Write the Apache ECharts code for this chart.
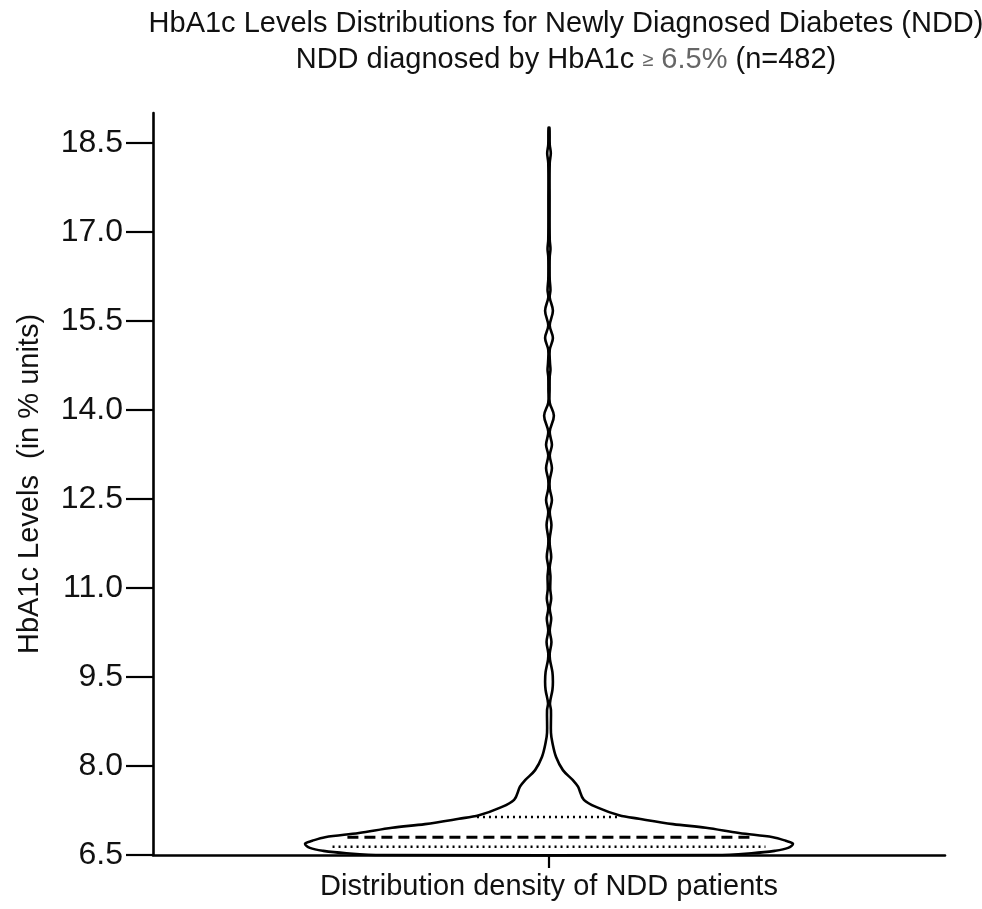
<!DOCTYPE html>
<html>
<head>
<meta charset="utf-8">
<title>HbA1c violin</title>
<script src="https://cdn.jsdelivr.net/npm/echarts@6/dist/echarts.min.js"></script>
<style>
html,body{margin:0;padding:0;background:#fff;}
#violin_chart{width:982px;height:909px;}
</style>
</head>
<body>
<div id="violin_chart"></div>
<script>
// HbA1c level (%) along the violin outline, from bottom to top
var levels = [6.50, 6.53, 6.57, 6.62, 6.69, 6.74, 6.80, 6.87, 6.96, 7.02, 7.11, 7.17, 7.29, 7.43, 7.65, 7.76, 7.93,
	8.15, 8.39, 8.56, 8.94, 9.06, 9.28, 9.42, 9.58, 9.79, 9.90, 10.09, 10.28, 10.48, 10.65, 10.82, 10.98,
	11.19, 11.35, 11.52, 11.73, 11.84, 12.06, 12.28, 12.48, 12.67, 12.82, 13.02, 13.23, 13.41, 13.63, 13.90,
	14.12, 14.34, 14.56, 14.67, 14.79, 15.01, 15.21, 15.42, 15.67, 15.89, 16.02, 16.19, 16.36, 16.58, 16.71,
	16.87, 17.54, 18.16, 18.32, 18.47, 18.75];
// relative density (widest point = 1) at each level
var density = [0.684, 0.830, 0.925, 0.980, 1.000, 0.970, 0.918, 0.779, 0.643, 0.508, 0.369, 0.287, 0.205, 0.143, 0.119, 0.098, 0.057,
	0.029, 0.014, 0.008, 0.008, 0.004, 0.014, 0.016, 0.014, 0.004, 0.003, 0.010, 0.003, 0.009, 0.003, 0.009, 0.005,
	0.006, 0.003, 0.009, 0.003, 0.003, 0.010, 0.003, 0.012, 0.003, 0.003, 0.012, 0.003, 0.012, 0.003, 0.020,
	0.003, 0.0025, 0.003, 0.006, 0.004, 0.003, 0.016, 0.003, 0.016, 0.003, 0.006, 0.003, 0.0025, 0.003, 0.006,
	0.003, 0.0025, 0.003, 0.0074, 0.003, 0.002];
// quartiles drawn inside the violin
var quartiles = [6.64, 6.80, 7.14];
var quartileNames = ['Q1', 'Median', 'Q3'];
var yTicks = [6.5, 8.0, 9.5, 11.0, 12.5, 14.0, 15.5, 17.0, 18.5];
var categories = ['Distribution density of NDD patients'];

var FONT = "'Liberation Sans', Arial, Helvetica, sans-serif";

function densityAt(v){
	for (var i = 1; i < levels.length; i++) {
		if (v <= levels[i]) {
			var t = (v - levels[i-1]) / (levels[i] - levels[i-1]);
			return density[i-1] + t * (density[i] - density[i-1]);
		}
	}
	return 0;
}

function renderViolin(params, api){
	var left = [], right = [];
	for (var i = 0; i < levels.length; i++) {
		left.push(api.coord([-density[i], levels[i]]));
		right.unshift(api.coord([density[i], levels[i]]));
	}
	var children = [{
		type: 'polygon',
		shape: {points: left.concat(right), smooth: 0.35},
		style: {fill: '#fff', stroke: '#000', lineWidth: 2.6, lineJoin: 'round'}
	}];
	for (var q = 0; q < quartiles.length; q++) {
		var w = densityAt(quartiles[q]) * 0.9;
		var p1 = api.coord([-w, quartiles[q]]);
		var p2 = api.coord([w, quartiles[q]]);
		var isMedian = quartileNames[q] == 'Median';
		children.push({
			type: 'line',
			shape: {x1: p1[0], y1: p1[1], x2: p2[0], y2: p2[1]},
			style: {
				stroke: '#000',
				lineWidth: isMedian ? 3 : 2.4,
				lineDash: isMedian ? [11, 6] : [2, 4]
			}
		});
	}
	return {type: 'group', children: children};
}

var myChart = echarts.init(document.getElementById('violin_chart'));
var option = {
	backgroundColor: '#fff',
	animation: false,
	title: {
		text: '{a|HbA1c Levels Distributions for Newly Diagnosed Diabetes (NDD)}\n{a|NDD diagnosed by HbA1c }{s|≥}{g| 6.5%}{a| (n=482)}',
		left: 561,
		top: 1,
		textAlign: 'center',
		textStyle: {
			fontWeight: 'normal',
			rich: {
				a: {fontFamily: FONT, fontSize: 29, fontWeight: 'normal', color: '#111', lineHeight: 36},
				g: {fontFamily: FONT, fontSize: 29, fontWeight: 'normal', color: '#666', lineHeight: 36},
				s: {fontFamily: FONT, fontSize: 20, fontWeight: 'normal', color: '#666', lineHeight: 36}
			}
		}
	},
	grid: {left: 153, right: 37, top: 113, bottom: 54},
	xAxis: {
		type: 'value',
		min: -1.623,
		max: 1.623,
		splitLine: {show: false},
		axisLine: {show: true, onZero: false, lineStyle: {color: '#000', width: 2.6}},
		axisTick: {show: true, customValues: [0], length: 13, lineStyle: {color: '#000', width: 2.2}},
		axisLabel: {
			show: true,
			customValues: [0],
			formatter: function(){ return categories[0]; },
			fontFamily: FONT,
			fontSize: 29,
			color: '#111',
			margin: 17
		}
	},
	yAxis: {
		type: 'value',
		min: 6.5,
		max: 19.0,
		name: 'HbA1c Levels  (in % units)',
		nameLocation: 'middle',
		nameRotate: 90,
		nameGap: 109,
		nameTextStyle: {fontFamily: FONT, fontSize: 29, color: '#111'},
		splitLine: {show: false},
		axisLine: {show: true, onZero: false, lineStyle: {color: '#000', width: 2.6}},
		axisTick: {show: true, customValues: yTicks, length: 27, lineStyle: {color: '#000', width: 2.2}},
		axisLabel: {
			customValues: yTicks,
			formatter: function(v){ return Number(v).toFixed(1); },
			fontFamily: FONT,
			fontSize: 32,
			color: '#111',
			margin: 30
		}
	},
	series: [{
		type: 'custom',
		name: categories[0],
		renderItem: renderViolin,
		data: [[0, 6.5]],
		clip: false,
		z: 3
	}]
};
myChart.setOption(option);
</script>
</body>
</html>
